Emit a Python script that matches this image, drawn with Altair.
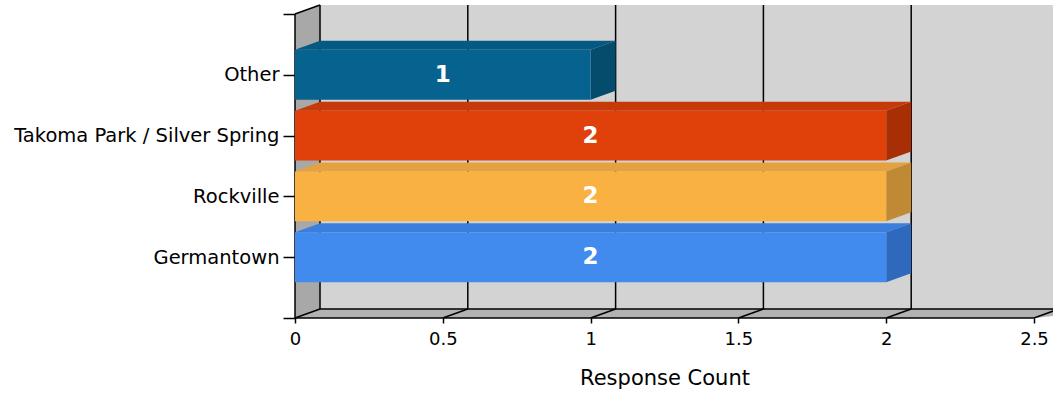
import json
import altair as alt
import pandas as pd

# ---- data ----
categories = ["Germantown", "Rockville", "Takoma Park / Silver Spring", "Other"]  # bottom -> top
counts = [2, 2, 2, 1]
x_ticks = [0, 0.5, 1, 1.5, 2, 2.5]

# ---- styles ----
front_colors = ["#418bef", "#f9b142", "#e0400a", "#06628f"]
top_colors = ["#3a7fdc", "#e3a23f", "#c63a0a", "#055a84"]
side_colors = ["#2e69bd", "#c08a34", "#a82e06", "#044b6c"]
WALL_BACK = "#d3d3d3"
WALL_LEFT = "#a8a8a8"
FLOOR = "#b2b2b2"

X_MAX = 2.5
Y_MAX = len(categories) + 1
DX = 0.0846   # 3D depth (x direction, data units)
DY = 0.148    # 3D depth (y direction, data units)
HALF = 0.41   # half bar thickness

FONT = "DejaVu Sans"

x_scale = alt.Scale(domain=[0, X_MAX], nice=False, zero=False)
y_scale = alt.Scale(domain=[0, Y_MAX], nice=False, zero=False)

label_list = [""] + categories + [""]
x_axis = alt.Axis(values=x_ticks, format="~g", title="Response Count", grid=False,
                  domain=False, ticks=True, tickSize=5, tickColor="black", tickWidth=1.5,
                  labelFont=FONT, labelFontSize=18, labelColor="black", labelPadding=7,
                  labelFlush=False,
                  titleFont=FONT, titleFontSize=21, titleFontWeight="normal",
                  titleColor="black", titlePadding=19)
y_axis = alt.Axis(values=list(range(Y_MAX + 1)), grid=False, domain=False, ticks=True,
                  tickSize=12, tickColor="black", tickWidth=1.5, title=None, labelLimit=0,
                  labelExpr=json.dumps(label_list) + "[datum.value]",
                  labelFont=FONT, labelFontSize=19.5, labelColor="black", labelPadding=4)


def X(f):
    return alt.X(f, type="quantitative", scale=x_scale, axis=x_axis)


def Y(f):
    return alt.Y(f, type="quantitative", scale=y_scale, axis=y_axis)


def poly_layer(rows):
    """Each group of rows is a polygon drawn as a vertical band (area)."""
    layers = []
    df = pd.DataFrame(rows)
    for g, sub in df.groupby("grp", sort=False):
        sub = sub.sort_values("px")
        layers.append(
            alt.Chart(sub).mark_area(orient="vertical", color=sub["col"].iloc[0],
                                     strokeWidth=0, opacity=1).encode(
                x=X("px"), y=alt.Y("pa", type="quantitative", scale=y_scale, axis=y_axis,
                                   stack=None),
                y2="pb")
        )
    return layers


# ---- walls ----
back_df = pd.DataFrame({"x0": [DX], "x1": [X_MAX + DX + 0.2], "y0": [DY], "y1": [Y_MAX + DY]})
back = alt.Chart(back_df).mark_rect(color=WALL_BACK).encode(
    x=X("x0"), x2="x1", y=Y("y0"), y2="y1")

wall_rows = []
for xx, ya, yb in [(0, 0, Y_MAX), (DX, DY, Y_MAX + DY)]:
    wall_rows.append({"grp": "left", "px": xx, "pa": ya, "pb": yb, "col": WALL_LEFT})
for xx, ya, yb in [(0, 0, 0), (DX, 0, DY), (X_MAX, 0, DY), (X_MAX + DX + 0.2, DY, DY)]:
    wall_rows.append({"grp": "floor", "px": xx, "pa": ya, "pb": yb, "col": FLOOR})
walls = poly_layer(wall_rows)

# ---- grid / edge lines ----
segs = [
    (0, 0, 0, Y_MAX),
    (0, Y_MAX, DX, Y_MAX + DY),
    (0, 0, X_MAX, 0),
    (DX, DY, X_MAX + DX + 0.2, DY),
]
for t in x_ticks:
    segs.append((t, 0, t + DX, DY))
    segs.append((t + DX, DY, t + DX, Y_MAX + DY))
seg_df = pd.DataFrame(segs, columns=["xa", "ya", "xb", "yb"])
lines = alt.Chart(seg_df).mark_rule(color="black", strokeWidth=1.5).encode(
    x=X("xa"), y=Y("ya"), x2="xb", y2="yb")

# ---- bars ----
front_rows, face_rows, text_rows = [], [], []
for i, (cat, v) in enumerate(zip(categories, counts)):
    c = i + 1
    yb, yt = c - HALF, c + HALF
    front_rows.append({"cat": cat, "x0": 0, "x1": v, "y0": yb, "y1": yt, "c": front_colors[i]})
    for xx, ya, ybb in [(0, yt, yt), (DX, yt, yt + DY), (v, yt, yt + DY), (v + DX, yt + DY, yt + DY)]:
        face_rows.append({"grp": f"top{i}", "px": xx, "pa": ya, "pb": ybb, "col": top_colors[i]})
    for xx, ya, ybb in [(v, yb, yt), (v + DX, yb + DY, yt + DY)]:
        face_rows.append({"grp": f"side{i}", "px": xx, "pa": ya, "pb": ybb, "col": side_colors[i]})
    text_rows.append({"cat": cat, "mid": v / 2, "y": c, "label": str(v)})

faces = poly_layer(face_rows)
fronts = alt.Chart(pd.DataFrame(front_rows)).mark_rect().encode(
    x=X("x0"), x2="x1", y=Y("y0"), y2="y1", color=alt.Color("c:N", scale=None))
texts = alt.Chart(pd.DataFrame(text_rows)).mark_text(
    color="white", font=FONT, fontSize=23, fontWeight="bold", baseline="middle", align="center"
).encode(x=X("mid"), y=Y("y"), text="label:N")

chart = alt.layer(back, *walls, lines, *faces, fronts, texts).properties(
    width=739, height=304,
    autosize=alt.AutoSizeParams(type="none"),
    padding={"left": 295, "top": 14, "right": 19, "bottom": 76},
    background="white",
).configure_view(stroke=None)

chart.save("out.html", embed_options={"renderer": "svg", "actions": False})
